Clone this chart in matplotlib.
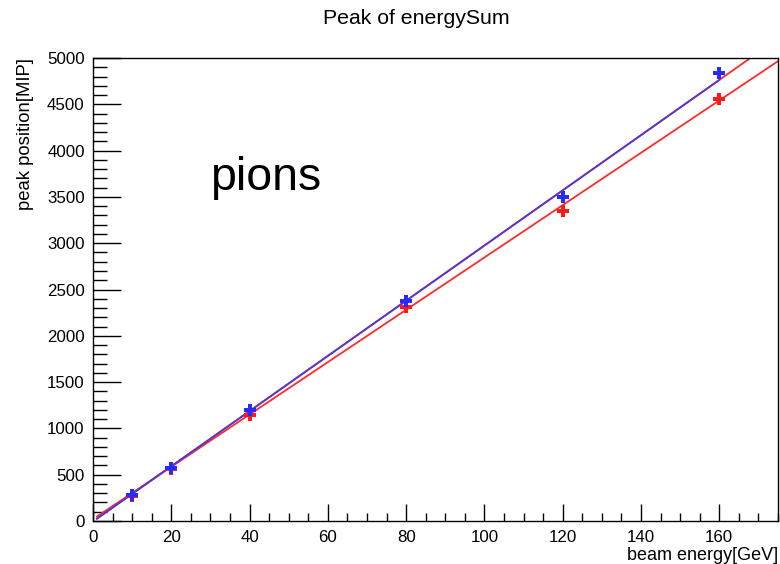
import matplotlib
matplotlib.use("Agg")
import matplotlib.pyplot as plt
import numpy as np
from matplotlib.ticker import MultipleLocator

plt.rcParams['font.family'] = ['Liberation Sans', 'DejaVu Sans']

energy = [10, 20, 40, 80, 120, 160]
peak_blue = [280, 575, 1200, 2375, 3497, 4838]
peak_red = [275, 565, 1145, 2308, 3353, 4557]

# fitted lines (slope, intercept)
fit_blue = (29.8, -5.0)
fit_red = (28.26, 20.0)

fig = plt.figure(figsize=(7.8, 5.64), dpi=100)
ax = fig.add_axes([93/780, 43/564, 685/780, 463/564])

xf = np.array([1.0, 175.0])
ax.plot(xf, fit_red[0]*xf + fit_red[1], color='#ff2a2a', lw=1.3, zorder=2)
ax.plot(xf, fit_blue[0]*xf + fit_blue[1], color='#ff2a2a', lw=1.3, zorder=2)
xb = np.array([1.0, 160.0])
ax.plot(xb, fit_blue[0]*xb + fit_blue[1], color='#4a3ad8', lw=1.3, zorder=3)

ax.plot(energy, peak_red, 'P', color='#ff1a1a', ms=8, mew=0, zorder=4)
ax.plot(energy, peak_blue, 'P', color='#2a2aff', ms=8, mew=0, zorder=5)

ax.set_xlim(0, 175)
ax.set_ylim(0, 5000)
ax.xaxis.set_major_locator(MultipleLocator(20))
ax.xaxis.set_minor_locator(MultipleLocator(5))
ax.yaxis.set_major_locator(MultipleLocator(500))
ax.yaxis.set_minor_locator(MultipleLocator(100))
ax.tick_params(axis='x', which='major', direction='in', length=12, width=1, labelsize=12.2, pad=6.5)
ax.tick_params(axis='x', which='minor', direction='in', length=6, width=1)
ax.tick_params(axis='y', which='major', direction='in', length=20, width=1, labelsize=12.2, pad=6)
ax.tick_params(axis='y', which='minor', direction='in', length=10, width=1)
for s in ax.spines.values():
    s.set_linewidth(1)

fig.text(778/780, 1 - 555/564, 'beam energy[GeV]', ha='right', va='center', fontsize=13)
fig.text(26/780, 1 - 58/564, 'peak position[MIP]', ha='center', va='top', rotation=90, fontsize=13.3)
fig.text(416/780, 1 - 19/564, 'Peak of energySum', ha='center', va='center', fontsize=15.3)
fig.text(210/780, 1 - 190/564, 'pions', ha='left', va='baseline', fontsize=33.5)

fig.savefig('out.png', dpi=100)
